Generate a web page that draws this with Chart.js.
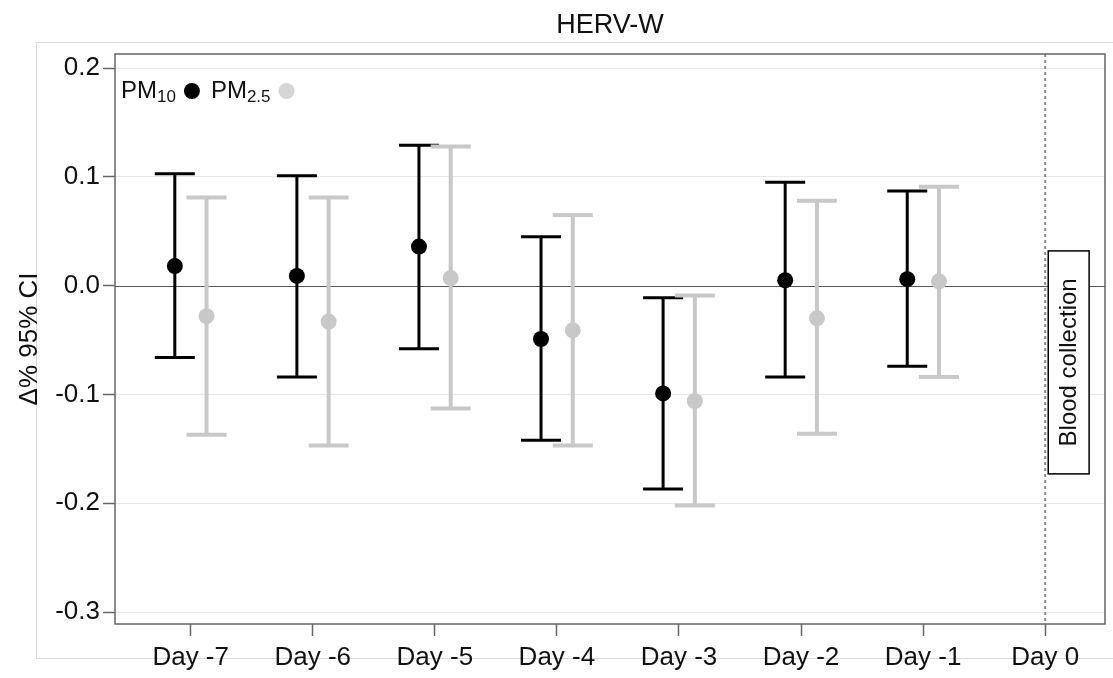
<!DOCTYPE html>
<html><head><meta charset="utf-8">
<script src="https://cdn.jsdelivr.net/npm/chart.js@4/dist/chart.umd.min.js"></script>
<style>html,body{margin:0;padding:0;background:#fff;}</style>
</head><body>
<canvas id="c" width="1113" height="678"></canvas>
<script>
// ---- data ----
const days = [-7, -6, -5, -4, -3, -2, -1];
const dayTicks = [-7, -6, -5, -4, -3, -2, -1, 0];
const yTicks = [-0.3, -0.2, -0.1, 0, 0.1, 0.2];
const pm10Est = [0.018, 0.009, 0.036, -0.049, -0.099, 0.005, 0.006];
const pm10Lo  = [-0.066, -0.084, -0.058, -0.142, -0.187, -0.084, -0.074];
const pm10Hi  = [0.103, 0.101, 0.129, 0.045, -0.011, 0.095, 0.087];
const pm25Est = [-0.028, -0.033, 0.007, -0.041, -0.106, -0.030, 0.004];
const pm25Lo  = [-0.137, -0.147, -0.113, -0.147, -0.202, -0.136, -0.084];
const pm25Hi  = [0.081, 0.081, 0.128, 0.065, -0.009, 0.078, 0.091];

const FONT = '"Liberation Sans", Arial, sans-serif';
const DODGE = 0.13;
const BLACK = '#000000';
const GREY = '#c8c8c8';

const errorBars = {
  id: 'errorBars',
  beforeDatasetsDraw(chart) {
    const {ctx, chartArea: ca, scales: {x, y}} = chart;
    ctx.save();
    // zero line
    ctx.strokeStyle = '#555'; ctx.lineWidth = 1;
    const y0 = Math.round(y.getPixelForValue(0)) + 0.5;
    ctx.beginPath(); ctx.moveTo(ca.left, y0); ctx.lineTo(ca.right, y0); ctx.stroke();
    // dotted day 0 line
    const xd = x.getPixelForValue(0);
    ctx.strokeStyle = '#8a8a8a'; ctx.lineWidth = 2; ctx.setLineDash([3, 3]);
    ctx.beginPath(); ctx.moveTo(xd, ca.top); ctx.lineTo(xd, ca.bottom); ctx.stroke();
    ctx.setLineDash([]);
    // error bars
    chart.data.datasets.forEach((ds) => {
      ctx.strokeStyle = ds.barColor; ctx.lineWidth = ds.barWidth;
      ds.data.forEach((p, i) => {
        const px = x.getPixelForValue(p.x);
        const lo = y.getPixelForValue(ds.lo[i]);
        const hi = y.getPixelForValue(ds.hi[i]);
        ctx.beginPath();
        ctx.moveTo(px, lo); ctx.lineTo(px, hi);
        ctx.moveTo(px - 20, lo); ctx.lineTo(px + 20, lo);
        ctx.moveTo(px - 20, hi); ctx.lineTo(px + 20, hi);
        ctx.stroke();
      });
    });
    ctx.restore();
  },
  afterDraw(chart) {
    const {ctx, chartArea: ca, scales: {x, y}} = chart;
    ctx.save();
    // plot frame
    ctx.strokeStyle = '#666'; ctx.lineWidth = 1.5;
    ctx.strokeRect(ca.left, ca.top, ca.right - ca.left, ca.bottom - ca.top);
    // Blood collection box
    const bx1 = x.getPixelForValue(0.025), bx2 = x.getPixelForValue(0.36);
    const by1 = y.getPixelForValue(0.032), by2 = y.getPixelForValue(-0.173);
    ctx.fillStyle = '#fff'; ctx.fillRect(bx1, by1, bx2 - bx1, by2 - by1);
    ctx.strokeStyle = '#000'; ctx.lineWidth = 1.5;
    ctx.strokeRect(bx1, by1, bx2 - bx1, by2 - by1);
    ctx.translate((bx1 + bx2) / 2, (by1 + by2) / 2);
    ctx.rotate(-Math.PI / 2);
    ctx.fillStyle = '#111'; ctx.font = '24px ' + FONT;
    ctx.textAlign = 'center'; ctx.textBaseline = 'middle';
    ctx.fillText('Blood collection', 0, 1);
    ctx.restore();
    // legend
    ctx.save();
    ctx.fillStyle = '#111'; ctx.textBaseline = 'alphabetic'; ctx.textAlign = 'left';
    let lx = ca.left + 6; const base = ca.top + 44;
    const item = (main, sub, color) => {
      ctx.fillStyle = '#111';
      ctx.font = '24px ' + FONT; ctx.fillText(main, lx, base); lx += ctx.measureText(main).width;
      ctx.font = '17px ' + FONT; ctx.fillText(sub, lx, base + 4); lx += ctx.measureText(sub).width;
      lx += 16;
      ctx.fillStyle = color; ctx.beginPath(); ctx.arc(lx, base - 7, 8, 0, Math.PI * 2); ctx.fill();
      lx += 19;
    };
    item('PM', '10', BLACK);
    item('PM', '2.5', '#d6d6d6');
    ctx.restore();
  },
  beforeDraw(chart) {
    const {ctx} = chart;
    ctx.save();
    ctx.fillStyle = '#fff'; ctx.fillRect(0, 0, chart.width, chart.height);
    ctx.strokeStyle = '#dadada'; ctx.lineWidth = 1;
    ctx.beginPath();
    ctx.moveTo(chart.width, 42.5); ctx.lineTo(36.5, 42.5); ctx.lineTo(36.5, 658.5); ctx.lineTo(chart.width, 658.5);
    ctx.stroke();
    ctx.restore();
  }
};

new Chart(document.getElementById('c'), {
  type: 'scatter',
  data: {
    datasets: [
      {
        label: 'PM10',
        data: days.map((d, i) => ({x: d - DODGE, y: pm10Est[i]})),
        lo: pm10Lo, hi: pm10Hi, barColor: BLACK, barWidth: 3,
        pointRadius: 8, pointBackgroundColor: BLACK, pointBorderWidth: 0, showLine: false
      },
      {
        label: 'PM2.5',
        data: days.map((d, i) => ({x: d + DODGE, y: pm25Est[i]})),
        lo: pm25Lo, hi: pm25Hi, barColor: GREY, barWidth: 4,
        pointRadius: 8, pointBackgroundColor: GREY, pointBorderWidth: 0, showLine: false
      }
    ]
  },
  options: {
    responsive: false, animation: false, devicePixelRatio: 1,
    layout: {padding: {left: 0, right: 8, top: 0, bottom: 0}},
    plugins: {
      legend: {display: false}, tooltip: {enabled: false},
      title: {display: true, fullSize: false, text: 'HERV-W', color: '#111',
        font: {family: FONT, size: 27, weight: 'normal'}, padding: {top: 9, bottom: 12.6}}
    },
    scales: {
      x: {
        type: 'linear', min: -7.62, max: 0.49,
        afterBuildTicks: (s) => { s.ticks = dayTicks.map(v => ({value: v})); },
        afterFit: (s) => { s.height = 54; },
        ticks: {callback: (v) => 'Day ' + v, color: '#111', font: {family: FONT, size: 26}, padding: 6, maxRotation: 0, autoSkip: false},
        grid: {drawOnChartArea: false, drawTicks: true, tickLength: 12, tickColor: '#666', tickWidth: 1.5},
        border: {display: false}
      },
      y: {
        min: -0.311, max: 0.213,
        afterBuildTicks: (s) => { s.ticks = yTicks.map(v => ({value: v})); },
        afterFit: (s) => { s.width = 115; },
        ticks: {callback: (v) => v.toFixed(1), color: '#111', font: {family: FONT, size: 26}, padding: 3},
        grid: {color: (c) => (c.tick && c.tick.value === 0) ? 'rgba(0,0,0,0)' : '#e8e8e8',
               tickLength: 12, tickColor: '#666', tickWidth: 1.5, lineWidth: 1},
        border: {display: false},
        title: {display: true, text: 'Δ% 95% CI', color: '#111', font: {family: FONT, size: 26}, padding: {top: 14, bottom: 0}}
      }
    }
  },
  plugins: [errorBars]
});
</script>
</body></html>
